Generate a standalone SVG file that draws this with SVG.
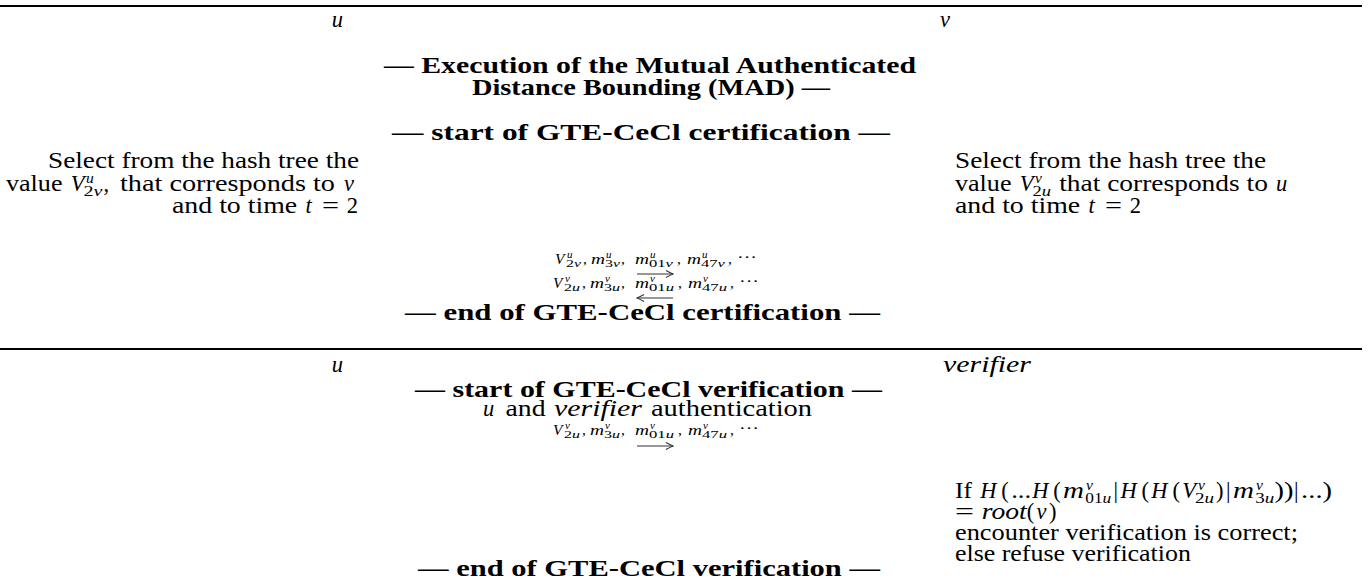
<svg xmlns="http://www.w3.org/2000/svg" width="1369" height="582" viewBox="0 0 1369 582" font-family="Liberation Serif, Times New Roman, serif">
<style>
text{font-family:"Liberation Serif","Times New Roman",serif;font-size:22.5px;fill:#000}
.b{font-weight:bold}
.i{font-style:italic}
.m{font-size:15.5px}
.ss{font-size:11px}
.sc{font-size:15.5px}
.rule{stroke:#000;stroke-width:2;fill:none}
.arr{stroke:#333;stroke-width:1.1;fill:none}
</style>
<defs>
<marker id="ah" viewBox="-8 -5 9 10" refX="0" refY="0" markerWidth="9" markerHeight="10" markerUnits="userSpaceOnUse" orient="auto">
<path d="M-7,-3.5 Q-2.5,-1 0,0 Q-2.5,1 -7,3.5" fill="none" stroke="#333" stroke-width="1.1"/>
</marker>
</defs>
<g id="rules">
<line class="rule" x1="0" y1="6" x2="1362" y2="6"/>
<line class="rule" x1="0" y1="349" x2="1362" y2="349"/>
</g>
<g id="hdr-u1"><text class="i" x="343" y="27" text-anchor="end">u</text></g>
<g id="hdr-v1"><text class="i" x="940" y="27">v</text></g>
<g id="title">
<text class="b" x="384" y="73" textLength="532" lengthAdjust="spacingAndGlyphs">— Execution of the Mutual Authenticated</text>
<text class="b" x="472" y="95" textLength="358" lengthAdjust="spacingAndGlyphs">Distance Bounding (MAD) —</text>
</g>
<g id="start-cert"><text class="b" x="392" y="140" textLength="498" lengthAdjust="spacingAndGlyphs">— start of GTE-CeCl certification —</text></g>
<g id="select-u">
<text x="48" y="168" textLength="311" lengthAdjust="spacingAndGlyphs">Select from the hash tree the</text>
<text x="6" y="190.5" textLength="56.5" lengthAdjust="spacingAndGlyphs">value</text>
<text class="i" x="70.7" y="190.5">V</text>
<text class="i sc" x="86" y="182.5">u</text>
<text class="sc" x="83.5" y="195.5" textLength="19" lengthAdjust="spacingAndGlyphs">2<tspan class="i">v</tspan></text>
<text x="103.5" y="190.5">,</text>
<text x="120" y="190.5" textLength="215" lengthAdjust="spacingAndGlyphs">that corresponds to</text>
<text class="i" x="344" y="190.5">v</text>
<text x="172" y="213" textLength="125.2" lengthAdjust="spacingAndGlyphs">and to time</text>
<text class="i" x="305.4" y="213">t</text>
<text x="322" y="213" textLength="17" lengthAdjust="spacingAndGlyphs">=</text>
<text x="346.8" y="213">2</text>
</g>
<g id="select-v">
<text x="955" y="168" textLength="311" lengthAdjust="spacingAndGlyphs">Select from the hash tree the</text>
<text x="955" y="190.5" textLength="56.5" lengthAdjust="spacingAndGlyphs">value</text>
<text class="i" x="1019.7" y="190.5">V</text>
<text class="i sc" x="1035" y="182.5">v</text>
<text class="sc" x="1032.5" y="195.5" textLength="18.5" lengthAdjust="spacingAndGlyphs">2<tspan class="i">u</tspan></text>
<text x="1059.2" y="190.5" textLength="208.7" lengthAdjust="spacingAndGlyphs">that corresponds to</text>
<text class="i" x="1276" y="190.5">u</text>
<text x="955" y="213" textLength="125.2" lengthAdjust="spacingAndGlyphs">and to time</text>
<text class="i" x="1088.4" y="213">t</text>
<text x="1105" y="213" textLength="17" lengthAdjust="spacingAndGlyphs">=</text>
<text x="1129.8" y="213">2</text>
</g>
<g id="msg1">
<text class="i m" x="555" y="264">V</text>
<text class="i ss" x="567" y="257.5">u</text>
<text class="ss" x="566" y="267" textLength="15" lengthAdjust="spacingAndGlyphs">2<tspan class="i">v</tspan></text>
<text class="m" x="583" y="264">,</text>
<text class="i m" x="591" y="264" textLength="14" lengthAdjust="spacingAndGlyphs">m</text>
<text class="i ss" x="606" y="257.5">u</text>
<text class="ss" x="605" y="267" textLength="15" lengthAdjust="spacingAndGlyphs">3<tspan class="i">v</tspan></text>
<text class="m" x="621" y="264">,</text>
<text class="i m" x="635" y="264" textLength="14" lengthAdjust="spacingAndGlyphs">m</text>
<text class="i ss" x="650" y="257.5">u</text>
<text class="ss" x="649" y="267" textLength="24" lengthAdjust="spacingAndGlyphs">01<tspan class="i">v</tspan></text>
<text class="m" x="677" y="264">,</text>
<text class="i m" x="687" y="264" textLength="14" lengthAdjust="spacingAndGlyphs">m</text>
<text class="i ss" x="702" y="257.5">u</text>
<text class="ss" x="701" y="267" textLength="24" lengthAdjust="spacingAndGlyphs">47<tspan class="i">v</tspan></text>
<text class="m" x="728" y="264">,</text>
<text class="m" x="737" y="262" textLength="20" lengthAdjust="spacingAndGlyphs">···</text>
</g>
<g id="msg2">
<text class="i m" x="553" y="288">V</text>
<text class="i ss" x="565" y="281.5">v</text>
<text class="ss" x="564" y="291" textLength="16" lengthAdjust="spacingAndGlyphs">2<tspan class="i">u</tspan></text>
<text class="m" x="582" y="288">,</text>
<text class="i m" x="590" y="288" textLength="14" lengthAdjust="spacingAndGlyphs">m</text>
<text class="i ss" x="605" y="281.5">v</text>
<text class="ss" x="604" y="291" textLength="16" lengthAdjust="spacingAndGlyphs">3<tspan class="i">u</tspan></text>
<text class="m" x="621" y="288">,</text>
<text class="i m" x="635" y="288" textLength="14" lengthAdjust="spacingAndGlyphs">m</text>
<text class="i ss" x="650" y="281.5">v</text>
<text class="ss" x="649" y="291" textLength="25" lengthAdjust="spacingAndGlyphs">01<tspan class="i">u</tspan></text>
<text class="m" x="678" y="288">,</text>
<text class="i m" x="688" y="288" textLength="14" lengthAdjust="spacingAndGlyphs">m</text>
<text class="i ss" x="703" y="281.5">v</text>
<text class="ss" x="702" y="291" textLength="25" lengthAdjust="spacingAndGlyphs">47<tspan class="i">u</tspan></text>
<text class="m" x="730" y="288">,</text>
<text class="m" x="739" y="286" textLength="20" lengthAdjust="spacingAndGlyphs">···</text>
</g>
<g id="end-cert"><text class="b" x="405" y="320" textLength="475" lengthAdjust="spacingAndGlyphs">— end of GTE-CeCl certification —</text></g>
<g id="hdr-u2"><text class="i" x="343" y="372" text-anchor="end">u</text></g>
<g id="hdr-verifier"><text class="i" x="943" y="372" textLength="88" lengthAdjust="spacingAndGlyphs">verifier</text></g>
<g id="start-verif"><text class="b" x="415" y="397" textLength="467" lengthAdjust="spacingAndGlyphs">— start of GTE-CeCl verification —</text></g>
<g id="auth">
<text class="i" x="483" y="416">u</text>
<text x="505.5" y="416" textLength="40" lengthAdjust="spacingAndGlyphs">and</text>
<text class="i" x="554" y="416" textLength="88" lengthAdjust="spacingAndGlyphs">verifier</text>
<text x="651" y="416" textLength="161" lengthAdjust="spacingAndGlyphs">authentication</text>
</g>
<g id="msg3">
<text class="i m" x="553" y="435">V</text>
<text class="i ss" x="565" y="428.5">v</text>
<text class="ss" x="564" y="438" textLength="16" lengthAdjust="spacingAndGlyphs">2<tspan class="i">u</tspan></text>
<text class="m" x="582" y="435">,</text>
<text class="i m" x="590" y="435" textLength="14" lengthAdjust="spacingAndGlyphs">m</text>
<text class="i ss" x="605" y="428.5">v</text>
<text class="ss" x="604" y="438" textLength="16" lengthAdjust="spacingAndGlyphs">3<tspan class="i">u</tspan></text>
<text class="m" x="621" y="435">,</text>
<text class="i m" x="635" y="435" textLength="14" lengthAdjust="spacingAndGlyphs">m</text>
<text class="i ss" x="650" y="428.5">v</text>
<text class="ss" x="649" y="438" textLength="25" lengthAdjust="spacingAndGlyphs">01<tspan class="i">u</tspan></text>
<text class="m" x="678" y="435">,</text>
<text class="i m" x="688" y="435" textLength="14" lengthAdjust="spacingAndGlyphs">m</text>
<text class="i ss" x="703" y="428.5">v</text>
<text class="ss" x="702" y="438" textLength="25" lengthAdjust="spacingAndGlyphs">47<tspan class="i">u</tspan></text>
<text class="m" x="730" y="435">,</text>
<text class="m" x="739" y="433" textLength="20" lengthAdjust="spacingAndGlyphs">···</text>
</g>
<g id="verify">
<text x="955" y="498" textLength="16.9" lengthAdjust="spacingAndGlyphs">If</text>
<text class="i" x="980.3" y="498">H</text>
<text x="1001.3" y="498">(</text>
<text x="1011.2" y="498" textLength="20" lengthAdjust="spacingAndGlyphs">...</text>
<text class="i" x="1032.2" y="498">H</text>
<text x="1053.3" y="498">(</text>
<text class="i" x="1063.1" y="498" textLength="21" lengthAdjust="spacingAndGlyphs">m</text>
<text class="i sc" x="1086" y="490">v</text>
<text class="sc" x="1085.3" y="503" textLength="26" lengthAdjust="spacingAndGlyphs">01<tspan class="i">u</tspan></text>
<text x="1113.4" y="498">|</text>
<text class="i" x="1120.4" y="498">H</text>
<text x="1141.5" y="498">(</text>
<text class="i" x="1151.3" y="498">H</text>
<text x="1172.4" y="498">(</text>
<text class="i" x="1182.2" y="498">V</text>
<text class="i sc" x="1198" y="490">v</text>
<text class="sc" x="1195" y="503" textLength="19" lengthAdjust="spacingAndGlyphs">2<tspan class="i">u</tspan></text>
<text x="1216.1" y="498">)</text>
<text x="1225.9" y="498">|</text>
<text class="i" x="1233" y="498" textLength="21" lengthAdjust="spacingAndGlyphs">m</text>
<text class="i sc" x="1256" y="490">v</text>
<text class="sc" x="1255.2" y="503" textLength="19" lengthAdjust="spacingAndGlyphs">3<tspan class="i">u</tspan></text>
<text x="1274.4" y="498" textLength="19" lengthAdjust="spacingAndGlyphs">))</text>
<text x="1294.1" y="498">|</text>
<text x="1301.1" y="498" textLength="31" lengthAdjust="spacingAndGlyphs">...)</text>
<text x="955" y="519" textLength="19" lengthAdjust="spacingAndGlyphs">=</text>
<text class="i" x="981.7" y="519" textLength="45" lengthAdjust="spacingAndGlyphs">root</text>
<text x="1026.8" y="519">(</text>
<text class="i" x="1036.6" y="519">v</text>
<text x="1048.9" y="519">)</text>
<text x="955" y="540" textLength="343" lengthAdjust="spacingAndGlyphs">encounter verification is correct;</text>
<text x="955" y="561" textLength="235.9" lengthAdjust="spacingAndGlyphs">else refuse verification</text>
</g>
<g id="end-verif"><text class="b" x="418" y="576" textLength="462" lengthAdjust="spacingAndGlyphs">— end of GTE-CeCl verification —</text></g>
<g id="connectors">
<path class="arr" d="M637,274 L673,274" marker-end="url(#ah)"/>
<path class="arr" d="M673,298 L637,298" marker-end="url(#ah)"/>
<path class="arr" d="M637,446 L673,446" marker-end="url(#ah)"/>
</g>
</svg>
